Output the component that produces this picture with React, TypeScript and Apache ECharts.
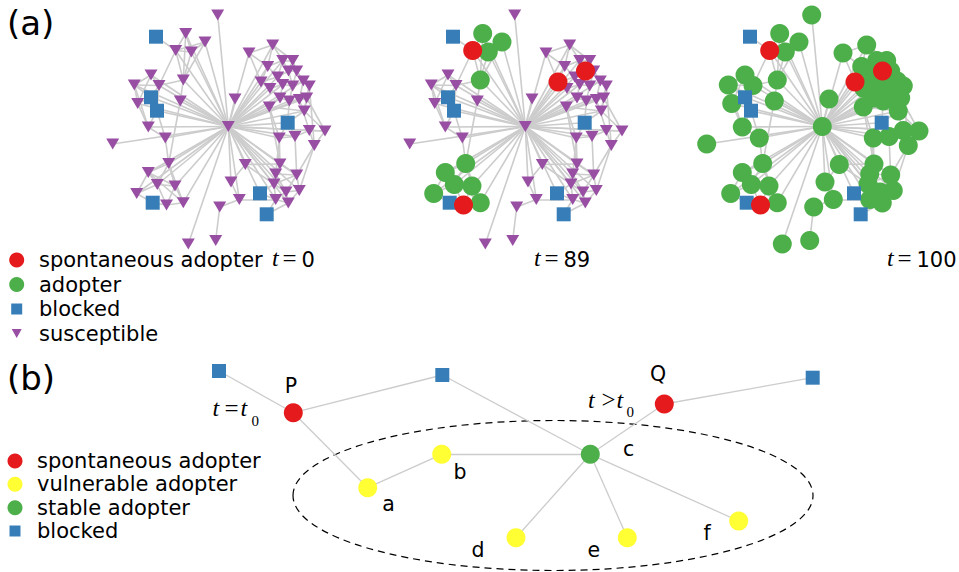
import React, { useEffect, useRef } from 'react';
import * as echarts from 'echarts';

// ---------- panel (a): one network layout, three time snapshots ----------
const nodeX = [
  228.3, 217.7, 156, 185.7, 205, 175.7, 191.3, 151, 134.3, 159,
  183.3, 180.3, 137.7, 148.3, 165.3, 112.7, 151, 157, 249, 272.7,
  267.7, 282.7, 292.7, 261, 277.7, 288.5, 296.7, 270, 282.7, 292.7,
  303.3, 309.3, 280, 289.3, 299.3, 306.7, 269.3, 304.3, 235, 287.7,
  279.3, 295, 309.3, 325, 314.3, 280, 275.7, 296.7, 274, 286,
  299.3, 275.7, 288.3, 260, 266.7, 245.3, 231, 239.3, 219.7, 215.7,
  188.3, 168.7, 148.3, 157.3, 175, 136.7, 166.5, 183.3, 152.7,
];
const nodeY = [
  126.5, 15, 36.7, 33.5, 42, 50.5, 52, 75, 85, 85.5,
  80, 101, 103.5, 127, 138, 144, 97.3, 110.7, 53, 45,
  66.5, 60.5, 60.5, 82, 77, 71, 71, 88.5, 84.5, 86,
  81, 86, 98, 101, 99.5, 98, 107, 111, 99, 122.7,
  138, 136.5, 130.5, 131, 145.5, 164, 174, 175, 184, 192,
  190.5, 199.5, 203, 193.3, 214.3, 164.5, 182, 199.5, 207, 240.5,
  244, 163.5, 172.5, 184.5, 186, 193.5, 205, 202.7, 202.7,
];
const edges: [number, number][] = [
  // star around the hub
  [0, 1], [0, 3], [0, 4], [0, 5], [0, 6], [0, 7], [0, 8], [0, 9], [0, 10], [0, 11],
  [0, 12], [0, 13], [0, 14], [0, 15], [0, 16], [0, 17], [0, 18], [0, 19], [0, 20], [0, 21],
  [0, 23], [0, 24], [0, 27], [0, 28], [0, 30], [0, 32], [0, 33], [0, 34], [0, 36], [0, 37],
  [0, 38], [0, 39], [0, 40], [0, 41], [0, 42], [0, 43], [0, 45], [0, 46], [0, 47], [0, 48],
  [0, 49], [0, 51], [0, 53], [0, 55], [0, 56], [0, 57], [0, 60], [0, 61], [0, 62], [0, 63],
  [0, 64], [0, 65], [0, 67], [0, 52], [0, 50], [0, 35],
  // upper-left group
  [2, 5], [3, 5], [3, 6], [4, 6], [5, 6], [3, 10], [4, 10], [5, 10], [6, 10], [5, 9], [4, 5],
  // left group
  [7, 8], [7, 9], [8, 9], [7, 12], [8, 12], [8, 16], [9, 16], [9, 17], [12, 16], [12, 13],
  [13, 17], [13, 14], [16, 17], [14, 17], [10, 11], [11, 61], [9, 10], [8, 13],
  // upper-right group
  [18, 19], [18, 20], [18, 23], [19, 20], [19, 21], [19, 22], [20, 21], [20, 23], [20, 24],
  [21, 22], [21, 24], [21, 25], [22, 25], [22, 26], [23, 24], [23, 27], [24, 25], [24, 28],
  [25, 26], [25, 29], [26, 30], [26, 29], [27, 28], [27, 32], [28, 29], [28, 32], [29, 30],
  [29, 33], [30, 31], [30, 34], [31, 35], [31, 37], [32, 33], [32, 36], [33, 34], [34, 35],
  [35, 37], [36, 37], [36, 40], [33, 39], [34, 42], [37, 43], [35, 43], [37, 39], [31, 44],
  // right group
  [39, 40], [39, 41], [40, 41], [41, 42], [42, 43], [42, 44], [43, 44], [40, 45], [41, 47],
  [44, 47], [36, 45], [44, 50],
  // lower-right group
  [45, 46], [45, 47], [46, 47], [46, 48], [47, 48], [47, 50], [48, 49], [48, 51], [49, 50],
  [49, 51], [49, 52], [50, 52], [51, 52], [51, 53], [52, 54], [53, 48], [54, 51], [46, 49],
  [45, 55], [40, 46], [47, 49],
  // lower middle
  [55, 56], [56, 57], [57, 58], [58, 59], [57, 51], [55, 48],
  // lower-left group
  [61, 62], [61, 63], [61, 64], [62, 63], [62, 65], [63, 64], [63, 65], [63, 66], [64, 66],
  [64, 67], [65, 68], [66, 67], [66, 68], [62, 64], [14, 61], [61, 67], [62, 67],
];
const blockedNodes = [2, 16, 17, 39, 53, 54, 68];
const spontaneousNodes = [5, 23, 25, 66];
const adoptersAt89 = [3, 4, 6, 10, 61, 62, 63, 64, 65, 67];
const panelTimes = ['0', '89', '100'];
const panelShift = [0, 297, 594];
const timeLabelX = [272, 534, 887];

const legendA = ['spontaneous adopter', 'adopter', 'blocked', 'susceptible'];
const legendB = ['spontaneous adopter', 'vulnerable adopter', 'stable adopter', 'blocked'];

// ---------- panel (b): illustrative network ----------
const bX = [219, 293.3, 442.3, 367.7, 441.7, 590.3, 664.3, 812.7, 516, 627.3, 738.7];
const bY = [371, 412.7, 375, 487.7, 454.3, 454.3, 404, 377.7, 537.7, 537.7, 521];
const bType = ['blocked', 'spont', 'blocked', 'vuln', 'vuln', 'stable', 'spont', 'blocked', 'vuln', 'vuln', 'vuln'];
const bEdges: [number, number][] = [[0, 1], [1, 2], [1, 3], [3, 4], [4, 5], [2, 5], [5, 6], [6, 7], [5, 8], [5, 9], [5, 10]];
const bLabelText = ['P', 'Q', 'a', 'b', 'c', 'd', 'e', 'f'];
const bLabelX = [291, 658, 388.5, 460, 628.7, 478, 593.7, 707];
const bLabelY = [386, 374, 504, 472, 448.5, 549.5, 549.5, 533];

const RED = '#e41a1c';
const GREEN = '#4daf4a';
const BLUE = '#377eb8';
const PURPLE = '#984ea3';
const YELLOW = '#ffff33';
const EDGE = '#cccccc';
const SANS = 'DejaVu Sans';
const SERIF = 'Liberation Serif';

function stateOf(i: number, p: number): string {
  if (blockedNodes.includes(i)) return 'blocked';
  if (p >= 1 && spontaneousNodes.includes(i)) return 'spont';
  if (p === 2) return 'adopter';
  if (p === 1 && adoptersAt89.includes(i)) return 'adopter';
  return 'susceptible';
}

function buildOption() {
  const series: any[] = [];
  panelShift.forEach((dx, p) => {
    series.push({
      type: 'lines',
      coordinateSystem: 'cartesian2d',
      silent: true,
      z: 1,
      lineStyle: { color: EDGE, width: 1.6, opacity: 1 },
      data: edges.map(([a, b]) => ({ coords: [[nodeX[a] + dx, nodeY[a]], [nodeX[b] + dx, nodeY[b]]] })),
    });
    const pick = (s: string) =>
      nodeX.map((x, i) => (stateOf(i, p) === s ? [x + dx, nodeY[i]] : null)).filter((d) => d !== null);
    series.push({
      type: 'scatter', silent: true, z: 2, symbol: 'triangle', symbolRotate: 180, symbolSize: [13, 11],
      itemStyle: { color: PURPLE, opacity: 1 }, data: pick('susceptible'),
    });
    series.push({
      type: 'scatter', silent: true, z: 3, symbol: 'circle', symbolSize: 19,
      itemStyle: { color: GREEN, opacity: 1 }, data: pick('adopter'),
    });
    series.push({
      type: 'scatter', silent: true, z: 4, symbol: 'rect', symbolSize: 14,
      itemStyle: { color: BLUE, opacity: 1 }, data: pick('blocked'),
    });
    series.push({
      type: 'scatter', silent: true, z: 5, symbol: 'circle', symbolSize: 19,
      itemStyle: { color: RED, opacity: 1 }, data: pick('spont'),
    });
  });

  // panel (b)
  series.push({
    type: 'lines', coordinateSystem: 'cartesian2d', silent: true, z: 1,
    lineStyle: { color: EDGE, width: 1.3, opacity: 1 },
    data: bEdges.map(([a, b]) => ({ coords: [[bX[a], bY[a]], [bX[b], bY[b]]] })),
  });
  const bPick = (t: string) => bX.map((x, i) => (bType[i] === t ? [x, bY[i]] : null)).filter((d) => d !== null);
  const bStyle: Record<string, [string, string, number]> = {
    spont: ['circle', RED, 19], vuln: ['circle', YELLOW, 19], stable: ['circle', GREEN, 19], blocked: ['rect', BLUE, 14],
  };
  Object.keys(bStyle).forEach((t) => {
    const [sym, col, size] = bStyle[t];
    series.push({
      type: 'scatter', silent: true, z: 4, symbol: sym, symbolSize: size,
      itemStyle: { color: col, opacity: 1 }, data: bPick(t),
    });
  });

  const graphic: any[] = [];
  const txt = (text: string, x: number, y: number, size: number, family = SANS, extra: any = {}) => ({
    type: 'text', x, y, z: 10, silent: true,
    style: {
      text, fill: '#000', font: `${extra.fontStyle || 'normal'} ${size}px "${family}"`, fontSize: size, fontFamily: family,
      textAlign: 'left', align: 'left', textVerticalAlign: 'middle', verticalAlign: 'middle', ...extra,
    },
  });

  graphic.push(txt('(a)', 7, 23, 34));
  graphic.push(txt('(b)', 7, 378, 34));

  // legend (a)
  const legAY = [260, 284.5, 309, 333.5];
  graphic.push({ type: 'circle', z: 10, shape: { cx: 16.7, cy: legAY[0], r: 7.5 }, style: { fill: RED } });
  graphic.push({ type: 'circle', z: 10, shape: { cx: 16.7, cy: legAY[1], r: 7.5 }, style: { fill: GREEN } });
  graphic.push({ type: 'rect', z: 10, shape: { x: 11.2, y: legAY[2] - 5.5, width: 11, height: 11 }, style: { fill: BLUE } });
  graphic.push({
    type: 'polygon', z: 10,
    shape: { points: [[11.7, legAY[3] - 4.5], [21.7, legAY[3] - 4.5], [16.7, legAY[3] + 4.5]] },
    style: { fill: PURPLE },
  });
  legendA.forEach((t, i) => graphic.push(txt(t, 39, legAY[i], 21)));

  // legend (b)
  const legBY = [461, 484.3, 507.7, 531];
  graphic.push({ type: 'circle', z: 10, shape: { cx: 15, cy: legBY[0], r: 7.5 }, style: { fill: RED } });
  graphic.push({ type: 'circle', z: 10, shape: { cx: 15, cy: legBY[1], r: 7.5 }, style: { fill: YELLOW } });
  graphic.push({ type: 'circle', z: 10, shape: { cx: 15, cy: legBY[2], r: 7.5 }, style: { fill: GREEN } });
  graphic.push({ type: 'rect', z: 10, shape: { x: 9.5, y: legBY[3] - 5.5, width: 11, height: 11 }, style: { fill: BLUE } });
  legendB.forEach((t, i) => graphic.push(txt(t, 37, legBY[i], 21)));

  // time labels: italic t, upright relation, sans number
  const ital = { fontStyle: 'italic' };
  panelTimes.forEach((t, p) => {
    const x0 = timeLabelX[p];
    graphic.push(txt('t', x0, 258, 24, SERIF, ital));
    graphic.push(txt('=', x0 + 10.5, 258, 25, SERIF));
    graphic.push(txt(t, x0 + 29.5, 259.5, 21));
  });

  // (b) math labels
  graphic.push(txt('t', 212.5, 408, 24, SERIF, ital));
  graphic.push(txt('=', 224.5, 408, 25, SERIF));
  graphic.push(txt('t', 240.5, 408, 24, SERIF, ital));
  graphic.push(txt('0', 251.5, 420.5, 15, SERIF));
  graphic.push(txt('t', 588, 399.5, 24, SERIF, ital));
  graphic.push(txt('>', 601.5, 399.5, 25, SERIF));
  graphic.push(txt('t', 616.5, 399.5, 24, SERIF, ital));
  graphic.push(txt('0', 626.5, 411.5, 15, SERIF));

  // node letters
  bLabelText.forEach((t, i) =>
    graphic.push(txt(t, bLabelX[i], bLabelY[i], 20.5, SANS, { textAlign: 'center', align: 'center' })),
  );

  // dashed ellipse
  graphic.push({
    type: 'ellipse', z: 0, silent: true,
    shape: { cx: 553, cy: 495.5, rx: 260, ry: 75 },
    style: { fill: 'none', stroke: '#000', lineWidth: 1.2, lineDash: [7, 5] },
  });

  return {
    animation: false,
    backgroundColor: '#ffffff',
    grid: { left: 0, right: 0, top: 0, bottom: 0 },
    xAxis: { type: 'value', min: 0, max: 959, show: false },
    yAxis: { type: 'value', min: 0, max: 572, inverse: true, show: false },
    series,
    graphic,
  };
}

export default function App() {
  const ref = useRef<HTMLDivElement>(null);
  useEffect(() => {
    document.body.style.margin = '0';
    if (!ref.current) return;
    const chart = echarts.init(ref.current, undefined, { renderer: 'svg' });
    chart.setOption(buildOption() as any);
    return () => chart.dispose();
  }, []);
  return <div ref={ref} style={{ width: 959, height: 572 }} />;
}
